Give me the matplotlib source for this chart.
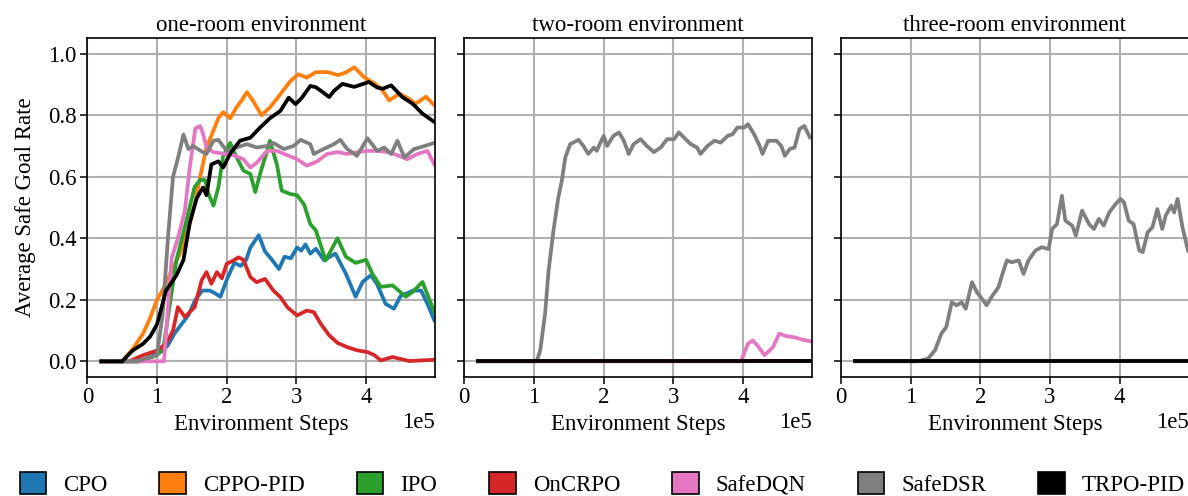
import matplotlib
matplotlib.use("Agg")
from matplotlib import pyplot as plt
from matplotlib.patches import Patch

plt.rcParams["font.family"] = ["Liberation Serif", "DejaVu Serif"]
plt.rcParams["font.size"] = 16.5

# nombres y colores de los algoritmos
algoritmos = ["CPO", "CPPO-PID", "IPO", "OnCRPO", "SafeDQN", "SafeDSR", "TRPO-PID"]
colores = ["#1f77b4", "#ff7f0e", "#2ca02c", "#d62728", "#e377c2", "#7f7f7f", "black"]
titulos = ["one-room environment", "two-room environment", "three-room environment"]

# pasos en unidades de 1e5
# --- one-room ---
pasos_cpo_1 = [0.2, 0.75, 0.95, 1.05, 1.15, 1.25, 1.35, 1.45, 1.55, 1.65, 1.76, 1.84, 1.91, 2.01,
               2.11, 2.2, 2.28, 2.34, 2.46, 2.55, 2.65, 2.75, 2.83, 2.92, 3.01, 3.07, 3.13, 3.2,
               3.28, 3.4, 3.48, 3.56, 3.71, 3.85, 3.95, 4.07, 4.16, 4.28, 4.4, 4.5, 4.58, 4.67,
               4.79, 4.88, 4.98]
tasa_cpo_1 = [0, 0, 0.02, 0.03, 0.05, 0.09, 0.12, 0.15, 0.2, 0.23, 0.23, 0.22, 0.21, 0.27,
              0.32, 0.31, 0.33, 0.37, 0.41, 0.357, 0.33, 0.30, 0.34, 0.335, 0.37, 0.36, 0.38, 0.35,
              0.366, 0.328, 0.34, 0.35, 0.285, 0.21, 0.258, 0.28, 0.25, 0.187, 0.171, 0.214, 0.22, 0.23,
              0.23, 0.187, 0.133]

pasos_cppo_1 = [0.2, 0.5, 0.65, 0.8, 0.9, 1.0, 1.1, 1.2, 1.33, 1.45, 1.55, 1.62, 1.71, 1.81, 1.88,
                1.95, 2.05, 2.14, 2.22, 2.29, 2.38, 2.5, 2.62, 2.77, 2.91, 3.03, 3.15, 3.28, 3.45,
                3.6, 3.72, 3.83, 3.97, 4.14, 4.24, 4.33, 4.48, 4.62, 4.71, 4.86, 4.98]
tasa_cppo_1 = [0, 0, 0.04, 0.09, 0.14, 0.2, 0.24, 0.29, 0.35, 0.43, 0.52, 0.6, 0.695, 0.75, 0.79,
               0.81, 0.79, 0.825, 0.85, 0.875, 0.846, 0.80, 0.825, 0.868, 0.91, 0.933, 0.922, 0.94, 0.94,
               0.93, 0.94, 0.956, 0.924, 0.90, 0.88, 0.848, 0.87, 0.853, 0.837, 0.86, 0.832]

pasos_ipo_1 = [0.2, 0.75, 1.0, 1.09, 1.18, 1.28, 1.4, 1.54, 1.62, 1.69, 1.74, 1.81, 1.88, 1.95,
               2.05, 2.12, 2.24, 2.34, 2.41, 2.48, 2.58, 2.62, 2.72, 2.79, 2.91, 3.01, 3.11, 3.2,
               3.28, 3.42, 3.59, 3.71, 3.85, 4.0, 4.09, 4.21, 4.38, 4.57, 4.67, 4.81, 4.91, 4.98]
tasa_ipo_1 = [0, 0, 0.02, 0.04, 0.18, 0.33, 0.437, 0.567, 0.59, 0.589, 0.544, 0.506, 0.565, 0.668,
              0.71, 0.674, 0.62, 0.609, 0.55, 0.61, 0.684, 0.717, 0.64, 0.555, 0.544, 0.54, 0.51, 0.446,
              0.425, 0.328, 0.40, 0.34, 0.32, 0.33, 0.285, 0.242, 0.247, 0.21, 0.226, 0.258, 0.2, 0.16]

pasos_oncrpo_1 = [0.2, 0.6, 0.8, 1.0, 1.13, 1.23, 1.3, 1.4, 1.54, 1.64, 1.71, 1.78, 1.86, 1.93,
                  2.0, 2.1, 2.17, 2.24, 2.34, 2.43, 2.55, 2.67, 2.77, 2.87, 3.01, 3.15, 3.25, 3.35,
                  3.47, 3.59, 3.73, 3.87, 4.02, 4.12, 4.21, 4.38, 4.62, 4.8, 4.98]
tasa_oncrpo_1 = [0, 0, 0.02, 0.035, 0.057, 0.10, 0.176, 0.144, 0.176, 0.263, 0.29, 0.252, 0.29, 0.27,
                 0.317, 0.328, 0.338, 0.33, 0.274, 0.257, 0.268, 0.23, 0.209, 0.176, 0.149, 0.165, 0.16, 0.122,
                 0.085, 0.06, 0.046, 0.036, 0.03, 0.02, 0.003, 0.014, 0.001, 0.003, 0.005]

pasos_safedqn_1 = [0.2, 1.1, 1.15, 1.21, 1.3, 1.4, 1.47, 1.55, 1.62, 1.66, 1.71, 1.81, 1.95, 2.1,
                   2.24, 2.34, 2.43, 2.58, 2.72, 2.87, 3.01, 3.15, 3.3, 3.44, 3.59, 3.73, 3.87, 4.02,
                   4.16, 4.31, 4.45, 4.59, 4.74, 4.88, 4.98]
tasa_safedqn_1 = [0, 0, 0.15, 0.335, 0.40, 0.49, 0.63, 0.757, 0.765, 0.74, 0.695, 0.68, 0.675, 0.67,
                  0.657, 0.63, 0.645, 0.684, 0.684, 0.67, 0.657, 0.636, 0.65, 0.674, 0.68, 0.674, 0.68, 0.684,
                  0.684, 0.68, 0.67, 0.657, 0.674, 0.684, 0.64]

pasos_safedsr_1 = [0.2, 0.7, 0.85, 1.0, 1.08, 1.16, 1.23, 1.3, 1.38, 1.45, 1.52, 1.62, 1.71, 1.81,
                   1.88, 2.0, 2.14, 2.29, 2.43, 2.58, 2.67, 2.82, 2.96, 3.06, 3.2, 3.25, 3.39, 3.54,
                   3.63, 3.73, 3.87, 4.02, 4.16, 4.26, 4.36, 4.45, 4.55, 4.69, 4.84, 4.98]
tasa_safedsr_1 = [0, 0, 0.01, 0.02, 0.15, 0.41, 0.60, 0.66, 0.737, 0.69, 0.70, 0.685, 0.674, 0.717,
                  0.72, 0.684, 0.695, 0.706, 0.695, 0.70, 0.71, 0.69, 0.70, 0.72, 0.706, 0.674, 0.69, 0.706,
                  0.72, 0.69, 0.668, 0.725, 0.684, 0.695, 0.674, 0.717, 0.663, 0.69, 0.70, 0.71]

pasos_trpo_1 = [0.2, 0.5, 0.65, 0.8, 0.9, 1.0, 1.13, 1.28, 1.38, 1.47, 1.57, 1.66, 1.71, 1.78,
                1.88, 1.95, 2.05, 2.19, 2.34, 2.48, 2.62, 2.77, 2.89, 2.99, 3.08, 3.2, 3.28, 3.39,
                3.47, 3.54, 3.66, 3.83, 4.04, 4.16, 4.24, 4.36, 4.52, 4.67, 4.81, 4.98]
tasa_trpo_1 = [0, 0, 0.035, 0.057, 0.08, 0.12, 0.23, 0.28, 0.33, 0.45, 0.53, 0.565, 0.54, 0.64,
               0.65, 0.63, 0.675, 0.717, 0.727, 0.76, 0.79, 0.814, 0.857, 0.836, 0.857, 0.895, 0.891, 0.873,
               0.859, 0.879, 0.902, 0.892, 0.908, 0.89, 0.886, 0.897, 0.859, 0.837, 0.805, 0.778]

# --- two-room ---
pasos_safedqn_2 = [0.2, 3.97, 4.07, 4.14, 4.21, 4.31, 4.43, 4.52, 4.62, 4.74, 4.86, 4.98]
tasa_safedqn_2 = [0, 0, 0.057, 0.068, 0.05, 0.02, 0.046, 0.09, 0.082, 0.078, 0.07, 0.065]

pasos_safedsr_2 = [0.2, 1.04, 1.09, 1.16, 1.21, 1.28, 1.35, 1.40, 1.45, 1.52, 1.64, 1.71, 1.78,
                   1.86, 1.9, 2.0, 2.05, 2.14, 2.22, 2.29, 2.36, 2.43, 2.53, 2.62, 2.72, 2.82, 2.91,
                   3.01, 3.08, 3.15, 3.25, 3.34, 3.39, 3.49, 3.59, 3.68, 3.78, 3.85, 3.92, 4.02, 4.07,
                   4.16, 4.24, 4.28, 4.36, 4.48, 4.55, 4.6, 4.67, 4.74, 4.81, 4.88, 4.96]
tasa_safedsr_2 = [0, 0, 0.036, 0.155, 0.295, 0.425, 0.533, 0.587, 0.663, 0.706, 0.72, 0.70, 0.674,
                  0.695, 0.684, 0.733, 0.70, 0.733, 0.744, 0.717, 0.674, 0.706, 0.722, 0.70, 0.68, 0.695, 0.722,
                  0.722, 0.744, 0.728, 0.706, 0.695, 0.674, 0.70, 0.717, 0.711, 0.733, 0.738, 0.76, 0.76, 0.771,
                  0.738, 0.70, 0.674, 0.717, 0.717, 0.70, 0.668, 0.69, 0.695, 0.755, 0.765, 0.728]

# --- three-room ---
pasos_safedsr_3 = [0.2, 1.1, 1.25, 1.35, 1.44, 1.51, 1.59, 1.66, 1.73, 1.79, 1.88, 1.95, 2.04, 2.09,
                   2.16, 2.26, 2.31, 2.38, 2.45, 2.55, 2.62, 2.69, 2.79, 2.88, 2.98, 3.03, 3.1, 3.17,
                   3.22, 3.32, 3.37, 3.46, 3.56, 3.63, 3.7, 3.77, 3.85, 3.94, 4.01, 4.06, 4.13, 4.2,
                   4.28, 4.33, 4.4, 4.47, 4.54, 4.61, 4.66, 4.74, 4.78, 4.83, 4.9, 4.98]
tasa_safedsr_3 = [0, 0, 0.009, 0.036, 0.09, 0.111, 0.192, 0.182, 0.192, 0.171, 0.257, 0.225, 0.198, 0.182,
                  0.209, 0.241, 0.279, 0.328, 0.322, 0.328, 0.284, 0.328, 0.36, 0.371, 0.365, 0.43, 0.446, 0.538,
                  0.457, 0.441, 0.409, 0.49, 0.446, 0.43, 0.463, 0.441, 0.484, 0.511, 0.528, 0.517, 0.457, 0.446,
                  0.36, 0.355, 0.419, 0.436, 0.495, 0.43, 0.474, 0.506, 0.484, 0.528, 0.436, 0.36]

# curvas que se quedan en cero
pasos_cero = [0.2, 4.98]
tasa_cero = [0, 0]

paneles = [
    [(pasos_cpo_1, tasa_cpo_1), (pasos_cppo_1, tasa_cppo_1), (pasos_ipo_1, tasa_ipo_1),
     (pasos_oncrpo_1, tasa_oncrpo_1), (pasos_safedqn_1, tasa_safedqn_1),
     (pasos_safedsr_1, tasa_safedsr_1), (pasos_trpo_1, tasa_trpo_1)],
    [(pasos_cero, tasa_cero), (pasos_cero, tasa_cero), (pasos_cero, tasa_cero),
     (pasos_cero, tasa_cero), (pasos_safedqn_2, tasa_safedqn_2),
     (pasos_safedsr_2, tasa_safedsr_2), (pasos_cero, tasa_cero)],
    [(pasos_cero, tasa_cero), (pasos_cero, tasa_cero), (pasos_cero, tasa_cero),
     (pasos_cero, tasa_cero), (pasos_cero, tasa_cero),
     (pasos_safedsr_3, tasa_safedsr_3), (pasos_cero, tasa_cero)],
]

fig = plt.figure(figsize=(11.88, 4.96), dpi=100)
izquierdas = [0.0735, 0.3908, 0.7079]
ejes = []
for i in range(3):
    if i == 0:
        ax = fig.add_axes([izquierdas[i], 0.2405, 0.2927, 0.6823])
    else:
        ax = fig.add_axes([izquierdas[i], 0.2405, 0.2927, 0.6823], sharey=ejes[0])
    ejes.append(ax)
    for (pasos, tasa), color in zip(paneles[i], colores):
        ax.plot([p * 1e5 for p in pasos], tasa, color=color, linewidth=2.7)
    ax.set_xlim(0, 4.99e5)
    ax.set_ylim(-0.05, 1.05)
    ax.set_xticks([0, 1e5, 2e5, 3e5, 4e5])
    ax.set_yticks([0.0, 0.2, 0.4, 0.6, 0.8, 1.0])
    ax.ticklabel_format(axis="x", style="sci", scilimits=(0, 0))
    ax.grid(True, color="#b0b0b0", linewidth=1.5)
    ax.set_axisbelow(True)
    ax.tick_params(direction="out", length=5, width=1.1, pad=2.5)
    for lado in ax.spines.values():
        lado.set_linewidth(1.2)
    ax.set_title(titulos[i], fontsize=16.5, pad=5)
    ax.set_xlabel("Environment Steps")
    if i > 0:
        ax.tick_params(labelleft=False)

ejes[0].set_ylabel("Average Safe Goal Rate", labelpad=9)

manejadores = [Patch(facecolor=c, edgecolor="black", linewidth=1.2) for c in colores]
fig.legend(manejadores, algoritmos, loc="lower center", bbox_to_anchor=(0.507, -0.005), ncol=7,
           frameon=False, handlelength=1.15, handleheight=1.1, handletextpad=0.75,
           columnspacing=2.27, borderaxespad=0.0, borderpad=0.1)

plt.savefig("out.png", dpi=100)
